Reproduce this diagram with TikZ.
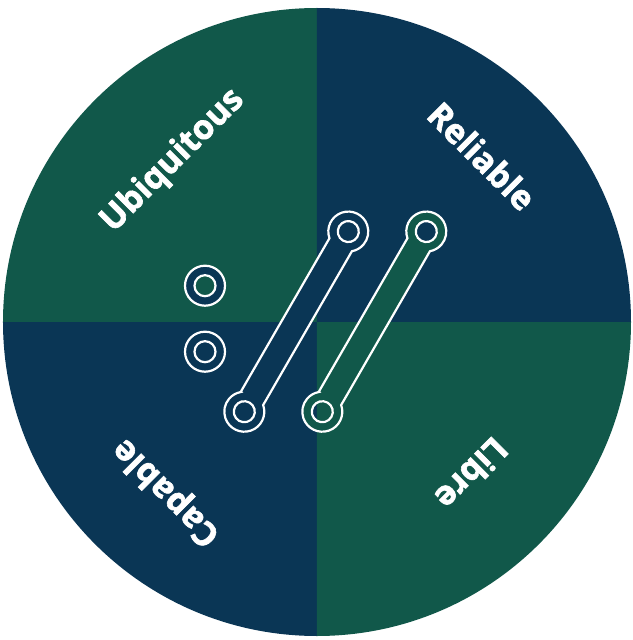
\documentclass[tikz,border=0pt]{standalone}
\usepackage{fontspec}
\setmainfont{Open Sans}[BoldFeatures={FakeBold=1.8}]
\definecolor{pinegreen}{RGB}{17,88,74}
\definecolor{navyblue}{RGB}{10,54,85}
\tikzset{
  quadtext/.style={text=white, font=\bfseries\fontsize{34}{34}\selectfont, inner sep=0pt},
  ring/.style={draw=white, line width=2.2pt, even odd rule},
}
\begin{document}
\begin{tikzpicture}[x=1pt, y=1pt]
    \useasboundingbox (-317,-318) rectangle (315,322);
    
    % four quarters of the disc
    \foreach \a/\c in {90/pinegreen, 0/navyblue, 180/navyblue, 270/pinegreen}
    {
      \fill[\c] (0,0) -- (\a:314pt) arc (\a:\a+90:314pt) -- cycle;
    }
    
    % two rings
    \foreach \y in {36.3,-29.7}
    {
      \filldraw[ring, fill=navyblue] (-112,\y) circle (20pt) circle (10.5pt);
    }
    
    % two links
    \foreach \x/\c in {-72.7/navyblue, 5.3/pinegreen}
    {
      \filldraw[ring, fill=\c, shift={(\x,-89.7)}, rotate=60]
        (15.2,13) -- (192.8,13) arc (139.5:-139.5:20pt) -- (15.2,-13) arc (-40.5:-319.5:20pt) -- cycle
        (0,0) circle (10.5pt) (208,0) circle (10.5pt);
    }
    
    \node[quadtext, rotate=45] (ubiq) at (-144,161) {Ubiquitous};
    \node[quadtext, rotate=-45] (reli) at (165,166) {Reliable};
    \node[quadtext, rotate=135] (capa) at (-150,-170) {Capable};
    \node[quadtext, rotate=-135] (libr) at (155,-152) {Libre};
    
\end{tikzpicture}
\end{document}
